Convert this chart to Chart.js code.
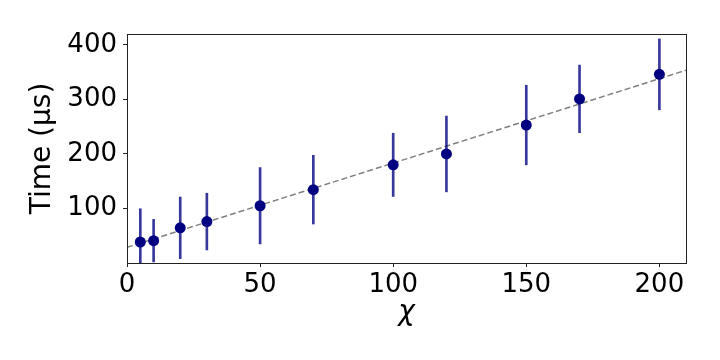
<!DOCTYPE html>
<html>
<head>
<meta charset="utf-8">
<script src="https://cdn.jsdelivr.net/npm/chart.js@4"></script>
<style>
  html, body { margin: 0; padding: 0; background: #fff; }
  #wrap { width: 720px; height: 360px; position: relative; }
</style>
</head>
<body>
<div id="wrap"><canvas id="chart"></canvas></div>
<script>
const chiValues = [5, 10, 20, 30, 50, 70, 100, 120, 150, 170, 200];
const timeValues = [38.5, 41, 64.5, 76, 105, 134.5, 180, 200, 253, 301, 346];
const timeErrors = [61, 39, 56.5, 52, 70, 63, 58, 69.5, 73, 62, 65];

const fitX = [0, 210];
const fitY = [28.6, 353.5];

const xTicks = [0, 50, 100, 150, 200];
const yTicks = [100, 200, 300, 400];

const axisColor = "#222";
const tickFont = { family: "DejaVu Sans", size: 26 };

const frame = {
  id: "frame",
  afterDraw(chart) {
    const { ctx, chartArea: a } = chart;
    ctx.save();
    ctx.strokeStyle = axisColor;
    ctx.lineWidth = 1;
    ctx.strokeRect(a.left + 0.5, a.top + 0.5, a.right - a.left, a.bottom - a.top);
    ctx.restore();
  },
};

new Chart(document.getElementById("chart"), {
  type: "scatter",
  data: {
    datasets: [
      {
        label: "points",
        data: chiValues.map((x, i) => ({ x, y: timeValues[i] })),
        backgroundColor: "#000080",
        borderColor: "#000080",
        pointRadius: 5.5,
        borderWidth: 0,
        order: 0,
      },
      {
        type: "bar",
        label: "errors",
        data: chiValues.map((x, i) => ({ x, y: [timeValues[i] - timeErrors[i], timeValues[i] + timeErrors[i]] })),
        backgroundColor: "rgba(0, 0, 128, 0.78)",
        borderWidth: 0,
        barThickness: 2,
        order: 1,
      },
      {
        type: "line",
        label: "fit",
        data: fitX.map((x, i) => ({ x, y: fitY[i] })),
        borderColor: "#808080",
        borderWidth: 1.5,
        borderDash: [6, 3],
        pointRadius: 0,
        fill: false,
        order: 2,
      },
    ],
  },
  options: {
    responsive: true,
    maintainAspectRatio: false,
    animation: false,
    layout: { padding: { top: 34, right: 34, left: 0, bottom: 0 } },
    plugins: {
      legend: { display: false },
      tooltip: { enabled: false },
    },
    scales: {
      x: {
        type: "linear",
        offset: false,
        min: 0,
        max: 210,
        afterBuildTicks: scale => { scale.ticks = xTicks.map(value => ({ value })); },
        afterFit: scale => { scale.height = 97; },
        grid: { offset: false, drawOnChartArea: false, drawTicks: true, tickLength: 4, color: axisColor },
        border: { display: true, color: axisColor },
        ticks: { color: "#000", font: tickFont, padding: 3, maxRotation: 0 },
        title: {
          display: true,
          text: "χ",
          color: "#000",
          font: { family: "DejaVu Sans", size: 28, style: "italic" },
          padding: { top: 0, bottom: 30 },
        },
      },
      y: {
        type: "linear",
        min: 0,
        max: 420,
        afterBuildTicks: scale => { scale.ticks = yTicks.map(value => ({ value })); },
        afterFit: scale => { scale.width = 127; },
        grid: { drawOnChartArea: false, drawTicks: true, tickLength: 4, color: axisColor },
        border: { display: true, color: axisColor },
        ticks: { color: "#000", font: tickFont, padding: 6 },
        title: {
          display: true,
          text: "Time (μs)",
          color: "#000",
          font: { family: "DejaVu Sans", size: 28 },
          padding: { top: 26, bottom: 0 },
        },
      },
    },
  },
  plugins: [frame],
});
</script>
</body>
</html>
